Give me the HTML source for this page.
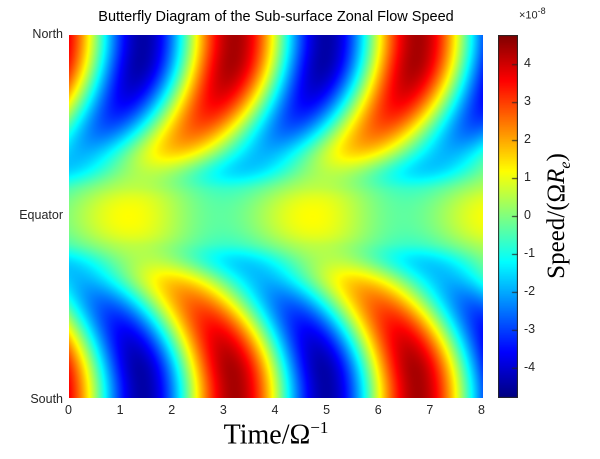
<!DOCTYPE html>
<html><head><meta charset="utf-8"><style>
body{margin:0;background:#fff;width:600px;height:459px;position:relative;overflow:hidden;font-family:"Liberation Sans",Arial,sans-serif;color:#262626}
.a{position:absolute;white-space:nowrap}
canvas{position:absolute}
</style></head><body>
<canvas id="c" width="414" height="363" style="left:69px;top:35px"></canvas>
<canvas id="cb" width="20" height="363" style="left:498px;top:35px"></canvas>
<div class="a" style="left:0;width:552px;top:9px;text-align:center;font-size:14.5px;color:#000">Butterfly Diagram of the Sub-surface Zonal Flow Speed</div>
<div class="a" style="right:537px;top:27px;font-size:12.5px">North</div>
<div class="a" style="right:537px;top:208px;font-size:12.5px">Equator</div>
<div class="a" style="right:537px;top:392px;font-size:12.5px">South</div>
<div id="xt"></div>
<div class="a" style="left:0;width:552px;top:418px;text-align:center;font-family:'Liberation Serif',serif;font-size:28px;color:#000">Time/Ω<sup style="font-size:17px">−1</sup></div>
<div id="ct"></div>
<div class="a" style="left:519px;top:6px;font-size:11px">×10<sup style="font-size:9px">-8</sup></div>
<div class="a" style="left:559px;top:216px;transform:translate(-50%,-50%) rotate(-90deg);font-family:'Liberation Serif',serif;font-size:25px;color:#000">Speed/(Ω<i>R</i><sub style="font-size:16px"><i>e</i></sub>)</div>
<script>
function jet(v){v=Math.max(0,Math.min(1,v));function f(x){return Math.max(0,Math.min(1,1.5-Math.abs(x)))}
return [f(4*v-3)*255,f(4*v-2)*255,f(4*v-1)*255];}
function ss(a,b,x){var t=Math.max(0,Math.min(1,(x-a)/(b-a)));return t*t*(3-2*t);}
var C=4.77,W=414,H=363,w=2*Math.PI/3.55;
var cx=document.getElementById('c').getContext('2d'),im=cx.createImageData(W,H);
for(var y=0;y<H;y++){var lat=1-2*y/(H-1),s=Math.abs(lat);
var d=2.6*Math.pow(1-s,2);
var A=4.4*Math.pow(ss(0.15,0.88,s),0.65);
var E=0.75*Math.exp(-Math.pow(s/0.38,2)),te=1.15+5*s*s;
var off=0.45*Math.exp(-Math.pow(s/0.2,2))-0.6*Math.exp(-Math.pow((s-0.24)/0.1,2));
for(var x=0;x<W;x++){var t=8*x/(W-1);
var v=A*Math.cos(w*(t-3.2+d))+E*Math.cos(w*(t-te))+off;
var c=jet((v+C)/(2*C)),i=4*(y*W+x);im.data[i]=c[0];im.data[i+1]=c[1];im.data[i+2]=c[2];im.data[i+3]=255;}}
cx.putImageData(im,0,0);
var cb=document.getElementById('cb').getContext('2d');
for(var y=0;y<H;y++){var c=jet(1-y/(H-1));cb.fillStyle='rgb('+c.map(Math.round).join(',')+')';cb.fillRect(0,y,20,1);}
cb.strokeStyle='#262626';cb.lineWidth=1;cb.strokeRect(0.5,0.5,19,H-1);
var s='';for(var k=0;k<=8;k++){s+='<div class="a" style="left:'+(69+k*413/8-4)+'px;top:403px;font-size:12.5px">'+k+'</div>';}
document.getElementById('xt').innerHTML=s;
s='';for(var k=-4;k<=4;k++){var yy=35+(C-k)/(2*C)*362;
cb.beginPath();cb.moveTo(14,yy-35+0.5);cb.lineTo(20,yy-35+0.5);cb.stroke();
s+='<div class="a" style="left:524px;top:'+(yy-8)+'px;font-size:12.5px">'+k+'</div>';}
document.getElementById('ct').innerHTML=s;
</script>
</body></html>
